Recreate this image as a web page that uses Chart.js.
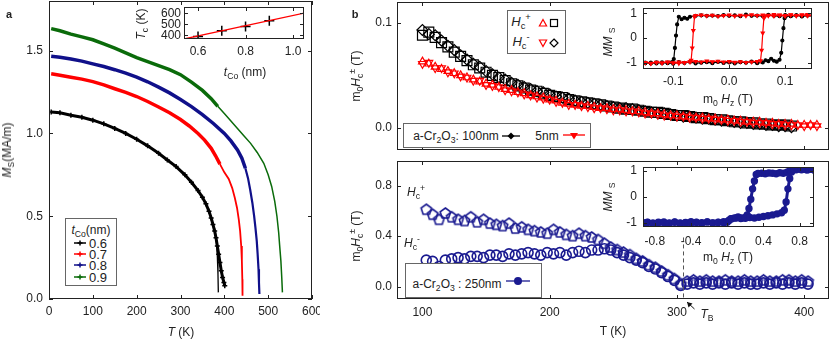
<!DOCTYPE html>
<html>
<head>
<meta charset="utf-8">
<script src="https://cdn.jsdelivr.net/npm/chart.js@4.4.0/dist/chart.umd.min.js"></script>
<style>
  body { margin: 0; background: #fff; }
  #page { position: relative; width: 830px; height: 339px; overflow: hidden; font-family: "Liberation Sans", Arial, sans-serif; color: #222; }
  canvas { position: absolute; }
  .t { position: absolute; transform: translate(-50%, -50%); white-space: nowrap; font-size: 12px; line-height: 1; }
  .r { transform: translate(-50%, -50%) rotate(-90deg); }
  .box { position: absolute; border: 1px solid #666; background: #fff; box-sizing: border-box; }
  .mk { position: absolute; transform: translate(-50%, -50%); }
  sub, sup { font-size: 72%; line-height: 0; }
</style>
</head>
<body>
<div id="page">
  <canvas id="cA" width="320" height="339" style="left:0;top:0"></canvas>
  <canvas id="cAin" width="160" height="60" style="left:150px;top:0"></canvas>
  <canvas id="cBtop" width="490" height="155" style="left:340px;top:0"></canvas>
  <canvas id="cBbot" width="490" height="184" style="left:340px;top:155px"></canvas>
  <canvas id="cBin1" width="215" height="90" style="left:600px;top:0"></canvas>
  <canvas id="cBin2" width="215" height="95" style="left:600px;top:155px"></canvas>

  <!-- panel a texts -->
  <div class="t" style="left:9px;top:14px;font-weight:bold;font-size:11px">a</div>
  <div class="t r" style="left:7px;top:150px"><i>M</i><sub>S</sub>(MA/m)</div>
  <div class="t" style="left:181px;top:332px"><i>T</i> (K)</div>
  <div class="t r" style="left:141px;top:24px"><i>T</i><sub>c</sub> (K)</div>
  <div class="t" style="left:245px;top:72px"><i>t</i><sub>Co</sub> (nm)</div>

  <div class="box" style="left:65px;top:218px;width:52px;height:68px"></div>
  <div class="t" style="left:91px;top:230px"><i>t</i><sub>Co</sub>(nm)</div>
  <svg class="mk" style="left:80px;top:243px" width="14" height="7"><line x1="1" y1="3.5" x2="13" y2="3.5" stroke="#000" stroke-width="1.5"/><path d="M7 1V6M4.5 3.5H9.5" stroke="#000" stroke-width="1.5"/></svg>
  <div class="t" style="left:98px;top:243px;font-size:13px">0.6</div>
  <svg class="mk" style="left:80px;top:254px" width="14" height="7"><line x1="1" y1="3.5" x2="13" y2="3.5" stroke="#f00" stroke-width="1.5"/><path d="M7 1V6M4.5 3.5H9.5" stroke="#f00" stroke-width="1.5"/></svg>
  <div class="t" style="left:98px;top:254px;font-size:13px">0.7</div>
  <svg class="mk" style="left:80px;top:265px" width="14" height="7"><line x1="1" y1="3.5" x2="13" y2="3.5" stroke="#10108a" stroke-width="1.5"/><path d="M7 1V6M4.5 3.5H9.5" stroke="#10108a" stroke-width="1.5"/></svg>
  <div class="t" style="left:98px;top:265px;font-size:13px">0.8</div>
  <svg class="mk" style="left:80px;top:277px" width="14" height="7"><line x1="1" y1="3.5" x2="13" y2="3.5" stroke="#0a6b0a" stroke-width="1.5"/><path d="M7 1V6M4.5 3.5H9.5" stroke="#0a6b0a" stroke-width="1.5"/></svg>
  <div class="t" style="left:98px;top:277px;font-size:13px">0.9</div>

  <!-- panel b texts -->
  <div class="t" style="left:355px;top:14px;font-weight:bold;font-size:11px">b</div>
  <div class="t r" style="left:356px;top:76px">m<sub>0</sub><i>H</i><sub>c</sub><sup>&plusmn;</sup> (T)</div>
  <div class="t r" style="left:356px;top:236px">m<sub>0</sub><i>H</i><sub>c</sub><sup>&plusmn;</sup> (T)</div>
  <div class="t" style="left:613px;top:331px">T (K)</div>

  <div class="box" style="left:507px;top:10px;width:59px;height:44px"></div>
  <div class="t" style="left:521px;top:21px;font-size:13px"><i>H</i><sub>c</sub><sup>+</sup></div>
  <div class="t" style="left:521px;top:41px;font-size:13px"><i>H</i><sub>c</sub><sup>-</sup></div>
  <svg class="mk" style="left:543px;top:23px" width="10" height="10"><path d="M5 1.5L8.6 8H1.4Z" fill="none" stroke="#f00" stroke-width="1.2"/></svg>
  <svg class="mk" style="left:554px;top:23px" width="10" height="10"><rect x="1.5" y="1.5" width="7" height="7" fill="none" stroke="#000" stroke-width="1.2"/></svg>
  <svg class="mk" style="left:543px;top:43px" width="10" height="10"><path d="M5 8.5L8.6 2H1.4Z" fill="none" stroke="#f00" stroke-width="1.2"/></svg>
  <svg class="mk" style="left:554px;top:43px" width="10" height="10"><path d="M5 1L9 5L5 9L1 5Z" fill="none" stroke="#000" stroke-width="1.2"/></svg>

  <div class="box" style="left:403px;top:123px;width:188px;height:25px"></div>
  <div class="t" style="left:456px;top:136px">a-Cr<sub>2</sub>O<sub>3</sub>: 100nm</div>
  <svg class="mk" style="left:511px;top:136px" width="18" height="10"><line x1="0" y1="5" x2="18" y2="5" stroke="#000" stroke-width="1.3"/><path d="M9 1.5L12.5 5L9 8.5L5.5 5Z" fill="#000"/></svg>
  <div class="t" style="left:547px;top:136px">5nm</div>
  <svg class="mk" style="left:574px;top:136px" width="22" height="10"><line x1="0" y1="4" x2="22" y2="4" stroke="#f00" stroke-width="1.3"/><path d="M11 8.5L15 2H7Z" fill="#f00"/></svg>

  <div class="t" style="left:416px;top:192px"><i>H</i><sub>c</sub><sup>+</sup></div>
  <div class="t" style="left:412px;top:243px"><i>H</i><sub>c</sub><sup>-</sup></div>
  <div class="t" style="left:707px;top:314px"><i>T</i><sub>B</sub></div>

  <div class="box" style="left:405px;top:263px;width:137px;height:35px"></div>
  <div class="t" style="left:457px;top:284px">a-Cr<sub>2</sub>O<sub>3</sub> : 250nm</div>
  <svg class="mk" style="left:518px;top:281px" width="24" height="10"><line x1="0" y1="5" x2="24" y2="5" stroke="#1a1a90" stroke-width="1.3"/><circle cx="12" cy="5" r="4" fill="#1a1a90"/></svg>

  <div class="t" style="left:728px;top:99px">m<sub>0</sub> <i>H</i><sub>z</sub> (T)</div>
  <div class="t r" style="left:608px;top:42px"><i>MM</i> <sub>S</sub></div>
  <div class="t" style="left:728px;top:257px">m<sub>0</sub> <i>H</i><sub>z</sub> (T)</div>
  <div class="t r" style="left:608px;top:197px"><i>MM</i> <sub>S</sub></div>
</div>
<script>
// ---------- panel a: Ms(T) for several Co thicknesses ----------
const tempA06 = [5, 25, 50, 75, 100, 125, 150, 175, 200, 225, 250, 270, 290, 310, 325, 340, 350, 358, 365, 370, 374, 378, 381, 384, 387, 390, 393, 396, 399, 401];
const msA06 = [1.13, 1.125, 1.11, 1.098, 1.08, 1.058, 1.03, 1.0, 0.965, 0.925, 0.88, 0.84, 0.80, 0.75, 0.705, 0.655, 0.615, 0.575, 0.53, 0.49, 0.45, 0.41, 0.37, 0.32, 0.27, 0.22, 0.17, 0.13, 0.10, 0.08];
const fitTempA06 = [365, 372, 378, 382, 384, 385.5, 386.3];
const fitMsA06 = [0.53, 0.47, 0.41, 0.34, 0.26, 0.15, 0.04];

const tempA07 = [5, 25, 50, 75, 100, 125, 150, 175, 200, 225, 250, 275, 300, 320, 340, 355, 370, 380, 390];
const msA07 = [1.36, 1.352, 1.34, 1.328, 1.313, 1.293, 1.27, 1.248, 1.223, 1.193, 1.16, 1.125, 1.084, 1.045, 1.0, 0.96, 0.91, 0.865, 0.815];
const fitTempA07 = [390, 400, 410, 418, 424, 429, 433, 436, 438.5, 440, 441, 441.5];
const fitMsA07 = [0.815, 0.765, 0.725, 0.67, 0.61, 0.55, 0.48, 0.41, 0.32, 0.23, 0.12, 0.02];

const tempA08 = [5, 25, 50, 75, 100, 125, 150, 175, 200, 225, 250, 275, 300, 325, 350, 375, 400, 415, 430, 440, 448];
const msA08 = [1.466, 1.46, 1.45, 1.437, 1.42, 1.404, 1.385, 1.364, 1.34, 1.312, 1.28, 1.245, 1.205, 1.162, 1.114, 1.06, 1.0, 0.955, 0.90, 0.85, 0.79];
const fitTempA08 = [448, 454, 459, 464, 468, 471, 474, 476, 478, 479, 480];
const fitMsA08 = [0.79, 0.73, 0.66, 0.58, 0.50, 0.43, 0.35, 0.27, 0.18, 0.10, 0.03];

const tempA09 = [5, 25, 50, 75, 100, 125, 150, 175, 200, 225, 250, 275, 300, 325, 350, 370, 385];
const msA09 = [1.633, 1.62, 1.60, 1.583, 1.566, 1.541, 1.515, 1.487, 1.458, 1.434, 1.41, 1.385, 1.355, 1.31, 1.26, 1.21, 1.164];
const fitTempA09 = [385, 400, 415, 430, 445, 460, 475, 490, 500, 508, 515, 520, 524, 526, 529, 531, 532.5];
const fitMsA09 = [1.164, 1.12, 1.075, 1.03, 0.985, 0.94, 0.885, 0.82, 0.75, 0.68, 0.59, 0.50, 0.40, 0.33, 0.23, 0.13, 0.04];

// inset a: Tc vs tCo
const tCo = [0.6, 0.7, 0.8, 0.9];
const tcValues = [388, 441, 480, 532];
const tcFitX = [0.54, 1.05];
const tcFitY = [366, 603];

// ---------- panel b top: Hc(T), a-Cr2O3 100 nm and 5 nm ----------
const tempB100 = [100, 105, 110, 115, 120, 125, 130, 135, 140, 145, 150, 155, 160, 165, 170, 175, 180, 185, 190, 195, 200, 205, 210, 215, 220, 225, 230, 235, 240, 245, 250, 255, 260, 265, 270, 275, 280, 285, 290, 295, 300, 305, 310, 315, 320, 325, 330, 335, 340, 345, 350, 355, 360, 365, 370, 375, 380, 385, 390];
const hcPlus100 = [0.088, 0.091, 0.086, 0.081, 0.077, 0.072, 0.068, 0.064, 0.060, 0.057, 0.053, 0.050, 0.048, 0.045, 0.042, 0.040, 0.038, 0.036, 0.035, 0.033, 0.031, 0.030, 0.029, 0.027, 0.026, 0.025, 0.024, 0.023, 0.022, 0.021, 0.020, 0.019, 0.018, 0.018, 0.017, 0.016, 0.015, 0.015, 0.014, 0.013, 0.012, 0.012, 0.011, 0.010, 0.010, 0.009, 0.008, 0.008, 0.007, 0.006, 0.006, 0.005, 0.005, 0.004, 0.004, 0.003, 0.003, 0.003, 0.002];
const hcMinus100 = [0.093, 0.089, 0.088, 0.083, 0.078, 0.074, 0.069, 0.065, 0.061, 0.058, 0.054, 0.051, 0.048, 0.046, 0.043, 0.041, 0.039, 0.037, 0.035, 0.034, 0.032, 0.030, 0.029, 0.028, 0.026, 0.025, 0.024, 0.023, 0.022, 0.021, 0.020, 0.019, 0.019, 0.018, 0.017, 0.016, 0.015, 0.014, 0.014, 0.013, 0.012, 0.011, 0.011, 0.010, 0.009, 0.009, 0.008, 0.007, 0.007, 0.006, 0.005, 0.005, 0.004, 0.004, 0.003, 0.003, 0.002, 0.002, 0.001];

const tempB5 = [100, 105, 110, 115, 120, 125, 130, 135, 140, 145, 150, 155, 160, 165, 170, 175, 180, 185, 190, 195, 200, 205, 210, 215, 220, 225, 230, 235, 240, 245, 250, 255, 260, 265, 270, 275, 280, 285, 290, 295, 300, 305, 310, 315, 320, 325, 330, 335, 340, 345, 350, 355, 360, 365, 370, 375, 380, 385, 390, 395, 400, 405, 410];
const hcPlus5 = [0.063, 0.061, 0.058, 0.056, 0.054, 0.052, 0.050, 0.048, 0.046, 0.044, 0.042, 0.041, 0.039, 0.037, 0.036, 0.034, 0.033, 0.031, 0.030, 0.029, 0.027, 0.026, 0.024, 0.023, 0.022, 0.021, 0.021, 0.020, 0.019, 0.019, 0.018, 0.018, 0.017, 0.016, 0.016, 0.015, 0.014, 0.014, 0.013, 0.012, 0.012, 0.011, 0.011, 0.010, 0.010, 0.009, 0.009, 0.008, 0.008, 0.007, 0.007, 0.006, 0.006, 0.006, 0.005, 0.005, 0.004, 0.004, 0.004, 0.003, 0.003, 0.003, 0.003];
const hcMinus5 = [0.061, 0.062, 0.057, 0.057, 0.053, 0.052, 0.049, 0.048, 0.045, 0.045, 0.041, 0.040, 0.039, 0.036, 0.035, 0.034, 0.032, 0.031, 0.029, 0.028, 0.027, 0.025, 0.024, 0.022, 0.022, 0.021, 0.020, 0.019, 0.019, 0.018, 0.017, 0.017, 0.016, 0.016, 0.015, 0.014, 0.014, 0.013, 0.012, 0.012, 0.011, 0.011, 0.010, 0.010, 0.009, 0.009, 0.008, 0.008, 0.007, 0.007, 0.006, 0.006, 0.005, 0.005, 0.005, 0.004, 0.004, 0.003, 0.003, 0.003, 0.002, 0.003, 0.002];

// ---------- panel b bottom: Hc(T), a-Cr2O3 250 nm ----------
const tempB250 = [103, 108, 113, 118, 123, 128, 133, 138, 143, 148, 153, 158, 163, 168, 173, 178, 183, 188, 193, 198, 203, 208, 213, 218, 223, 228, 233, 238, 243, 248, 253, 258, 263, 268, 273, 278, 283, 288, 293, 298, 303, 308, 313, 318, 323, 328, 333, 338, 343, 348, 353, 358, 363, 368, 373, 378, 383, 388, 393, 398, 403];
const hcPlus250 = [0.61, 0.57, 0.53, 0.58, 0.55, 0.53, 0.52, 0.55, 0.51, 0.53, 0.50, 0.49, 0.48, 0.50, 0.46, 0.47, 0.45, 0.44, 0.43, 0.42, 0.45, 0.43, 0.41, 0.40, 0.42, 0.40, 0.39, 0.37, 0.34, 0.31, 0.29, 0.27, 0.25, 0.22, 0.20, 0.17, 0.15, 0.12, 0.09, 0.06, 0.02, 0.04, 0.05, 0.04, 0.05, 0.04, 0.04, 0.05, 0.04, 0.04, 0.05, 0.04, 0.04, 0.05, 0.04, 0.04, 0.05, 0.05, 0.04, 0.05, 0.04];
const hcMinus250 = [0.21, 0.20, 0.16, 0.21, 0.22, 0.23, 0.22, 0.24, 0.24, 0.23, 0.25, 0.25, 0.24, 0.26, 0.25, 0.26, 0.27, 0.26, 0.25, 0.27, 0.26, 0.27, 0.25, 0.27, 0.28, 0.27, 0.29, 0.29, 0.30, 0.29, 0.27, 0.25, 0.23, 0.21, 0.19, 0.16, 0.14, 0.11, 0.08, 0.05, 0.01, 0.02, 0.03, 0.02, 0.03, 0.02, 0.03, 0.02, 0.03, 0.02, 0.03, 0.02, 0.02, 0.03, 0.02, 0.03, 0.02, 0.03, 0.02, 0.03, 0.02];
const tempBlocking = 305;

// ---------- hysteresis loops (insets b) ----------
const loop100H = [0.15, 0.14, 0.13, 0.12, 0.11, 0.10, 0.09, 0.08, 0.07, 0.06, 0.05, 0.04, 0.03, 0.02, 0.01, 0.00, -0.01, -0.02, -0.03, -0.04, -0.05, -0.06, -0.07, -0.075, -0.08, -0.085, -0.09, -0.093, -0.095, -0.097, -0.099, -0.102, -0.11, -0.12, -0.13, -0.14, -0.15,
  -0.15, -0.14, -0.13, -0.12, -0.11, -0.10, -0.09, -0.08, -0.07, -0.06, -0.05, -0.04, -0.03, -0.02, -0.01, 0.00, 0.01, 0.02, 0.03, 0.04, 0.05, 0.06, 0.065, 0.07, 0.075, 0.08, 0.085, 0.09, 0.093, 0.095, 0.097, 0.099, 0.102, 0.11, 0.12, 0.13, 0.14, 0.15];
const loop100M = [0.88, 0.91, 0.87, 0.92, 0.89, 0.93, 0.88, 0.90, 0.94, 0.89, 0.91, 0.90, 0.95, 0.88, 0.92, 0.90, 0.93, 0.89, 0.91, 0.90, 0.92, 0.90, 0.86, 0.78, 0.82, 0.76, 0.86, 0.55, 0.10, -0.40, -0.85, -0.98, -1.02, -0.99, -1.03, -1.00, -1.02,
  -1.00, -1.03, -0.99, -1.02, -1.00, -1.04, -0.98, -1.01, -0.97, -1.03, -1.00, -0.98, -1.02, -0.97, -1.01, -0.99, -1.03, -0.98, -1.00, -0.96, -1.02, -0.99, -0.90, -0.94, -0.84, -0.92, -0.96, -0.88, -0.60, -0.10, 0.40, 0.80, 0.90, 0.88, 0.92, 0.89, 0.93, 0.90];
const loop5H = [0.15, 0.14, 0.13, 0.12, 0.11, 0.10, 0.09, 0.08, 0.07, 0.06, 0.05, 0.04, 0.03, 0.02, 0.01, 0.00, -0.01, -0.02, -0.03, -0.04, -0.05, -0.06, -0.062, -0.064, -0.066, -0.068, -0.07, -0.08, -0.09, -0.10, -0.11, -0.12, -0.13, -0.14, -0.15,
  -0.15, -0.14, -0.13, -0.12, -0.11, -0.10, -0.09, -0.08, -0.07, -0.06, -0.05, -0.04, -0.03, -0.02, -0.01, 0.00, 0.01, 0.02, 0.03, 0.04, 0.05, 0.056, 0.058, 0.060, 0.062, 0.065, 0.07, 0.08, 0.09, 0.10, 0.11, 0.12, 0.13, 0.14, 0.15];
const loop5M = [0.92, 0.90, 0.94, 0.91, 0.93, 0.89, 0.92, 0.95, 0.90, 0.93, 0.91, 0.94, 0.90, 0.92, 0.89, 0.93, 0.91, 0.88, 0.92, 0.90, 0.93, 0.91, 0.85, 0.30, -0.40, -0.90, -0.97, -1.00, -0.97, -1.02, -0.98, -1.01, -0.99, -1.03, -1.00,
  -1.00, -1.02, -0.98, -1.01, -0.97, -1.00, -1.03, -0.99, -0.96, -0.95, -0.97, -0.93, -0.96, -0.94, -0.97, -0.95, -0.98, -0.96, -0.99, -0.97, -0.95, -0.92, -0.50, 0.20, 0.80, 0.90, 0.92, 0.89, 0.93, 0.91, 0.94, 0.90, 0.92, 0.95, 0.91];
const loop250H = [0.96, 0.92, 0.88, 0.84, 0.80, 0.76, 0.72, 0.69, 0.66, 0.62, 0.58, 0.54, 0.50, 0.46, 0.42, 0.38, 0.34, 0.32, 0.30, 0.28, 0.26, 0.24, 0.22, 0.20, 0.16, 0.12, 0.08, 0.04, 0.02, 0.00, -0.04, -0.10, -0.16, -0.22, -0.28, -0.34, -0.40, -0.46, -0.52, -0.58, -0.64, -0.70, -0.76, -0.82, -0.88, -0.93,
  -0.93, -0.88, -0.82, -0.76, -0.70, -0.64, -0.58, -0.52, -0.46, -0.40, -0.34, -0.28, -0.22, -0.16, -0.10, -0.04, 0.00, 0.02, 0.05, 0.10, 0.15, 0.20, 0.25, 0.30, 0.35, 0.40, 0.45, 0.50, 0.55, 0.60, 0.63, 0.65, 0.67, 0.69, 0.71, 0.74, 0.78, 0.82, 0.86, 0.90, 0.93, 0.96];
const loop250M = [1.03, 1.06, 1.02, 1.05, 1.07, 1.03, 1.05, 1.00, 0.94, 0.90, 0.92, 0.88, 0.90, 0.91, 0.88, 0.90, 0.89, 0.85, 0.60, 0.30, -0.10, -0.45, -0.70, -0.80, -0.82, -0.78, -0.82, -0.85, -0.90, -0.97, -1.00, -0.98, -1.01, -0.97, -1.02, -0.99, -0.96, -1.00, -1.03, -0.98, -1.01, -0.97, -1.00, -1.02, -0.98, -1.00,
  -1.01, -0.99, -1.02, -0.98, -1.00, -1.03, -0.97, -1.01, -0.99, -1.02, -0.98, -1.00, -0.97, -1.01, -0.99, -0.96, -0.97, -0.92, -0.85, -0.82, -0.84, -0.83, -0.80, -0.82, -0.79, -0.76, -0.73, -0.70, -0.66, -0.62, -0.52, -0.20, 0.30, 0.70, 0.95, 1.04, 1.06, 1.03, 1.07, 1.04, 1.06, 1.02];

const BLACK = "#000000";
const RED = "#ff0000";
const BLUE = "#10108a";
const GREEN = "#0a6b0a";
const NAVY = "#1a1a90";
const FONT = { family: "'Liberation Sans', Arial, sans-serif", size: 12 };

function pts(xs, ys) {
  return xs.map((x, i) => ({ x: x, y: ys[i] }));
}

// frame + inward ticks on all four sides
const frameTicks = {
  id: "frameTicks",
  beforeDraw(chart, args, opts) {
    if (!opts.fill) return;
    const a = chart.chartArea;
    chart.ctx.save();
    chart.ctx.fillStyle = opts.fill;
    chart.ctx.fillRect(a.left, a.top, a.width, a.height);
    chart.ctx.restore();
  },
  afterDraw(chart, args, opts) {
    const { ctx, chartArea: a, scales } = chart;
    const len = opts.len || 4;
    ctx.save();
    ctx.strokeStyle = opts.color || "#222";
    ctx.lineWidth = 1;
    ctx.beginPath();
    scales.x.ticks.forEach((t) => {
      const px = Math.round(scales.x.getPixelForValue(t.value)) + 0.5;
      ctx.moveTo(px, a.bottom);
      ctx.lineTo(px, a.bottom - len);
      ctx.moveTo(px, a.top);
      ctx.lineTo(px, a.top + len);
    });
    scales.y.ticks.forEach((t) => {
      const py = Math.round(scales.y.getPixelForValue(t.value)) + 0.5;
      ctx.moveTo(a.left, py);
      ctx.lineTo(a.left + len, py);
      ctx.moveTo(a.right, py);
      ctx.lineTo(a.right - len, py);
    });
    ctx.stroke();
    ctx.strokeRect(a.left + 0.5, a.top + 0.5, a.width - 1, a.height - 1);
    ctx.restore();
  },
};
Chart.register(frameTicks);

function axis(cfg) {
  return {
    type: "linear",
    min: cfg.min,
    max: cfg.max,
    afterFit: (s) => {
      if (cfg.width !== undefined) s.width = cfg.width;
      if (cfg.height !== undefined) s.height = cfg.height;
      // keep label overhang from pushing the plot area around
      s.paddingTop = 0;
      s.paddingBottom = 0;
      s.paddingLeft = 0;
      s.paddingRight = 0;
    },
    afterBuildTicks: (s) => {
      s.ticks = cfg.ticks.map((v) => ({ value: v }));
    },
    grid: { display: false, drawTicks: false },
    border: { display: false },
    ticks: {
      display: cfg.labels !== false,
      autoSkip: false,
      maxRotation: 0,
      padding: cfg.pad,
      color: "#222",
      font: FONT,
      callback: (v) => Number(v).toFixed(cfg.dec),
    },
  };
}

function makeChart(id, datasets, layoutPad, xCfg, yCfg, fill, extra) {
  return new Chart(document.getElementById(id), {
    type: "scatter",
    data: { datasets: datasets },
    options: {
      responsive: false,
      animation: false,
      events: [],
      layout: { autoPadding: false, padding: layoutPad },
      plugins: {
        legend: { display: false },
        tooltip: { enabled: false },
        frameTicks: { color: "#222", len: 4, fill: fill },
      },
      scales: { x: axis(xCfg), y: axis(yCfg) },
    },
    plugins: extra || [],
  });
}

function lineSet(xs, ys, color, width, extra) {
  return Object.assign({
    data: pts(xs, ys),
    showLine: true,
    borderColor: color,
    backgroundColor: color,
    borderWidth: width,
    pointRadius: 0,
  }, extra || {});
}

function markerSet(xs, ys, color, style, radius, extra) {
  return Object.assign({
    data: pts(xs, ys),
    showLine: false,
    borderColor: color,
    backgroundColor: "transparent",
    borderWidth: 1.2,
    pointStyle: style,
    pointRadius: radius,
  }, extra || {});
}

function pentagon(color, r, lw) {
  const c = document.createElement("canvas");
  const s = Math.ceil(2 * r + lw + 2);
  c.width = s;
  c.height = s;
  const g = c.getContext("2d");
  g.strokeStyle = color;
  g.lineWidth = lw;
  g.beginPath();
  for (let i = 0; i < 5; i++) {
    const ang = -Math.PI / 2 + (i * 2 * Math.PI) / 5;
    const px = s / 2 + r * Math.cos(ang);
    const py = s / 2 + r * Math.sin(ang);
    if (i === 0) g.moveTo(px, py);
    else g.lineTo(px, py);
  }
  g.closePath();
  g.stroke();
  return c;
}

// panel a
makeChart("cA", [
  lineSet(tempA06, msA06, BLACK, 3, { pointStyle: "cross", pointRadius: 2.5, pointBorderWidth: 1.5 }),
  lineSet(fitTempA06, fitMsA06, BLACK, 1.3),
  lineSet(tempA07, msA07, RED, 3.5),
  lineSet(fitTempA07, fitMsA07, RED, 1.8),
  lineSet(tempA08, msA08, BLUE, 3.5),
  lineSet(fitTempA08, fitMsA08, BLUE, 2.2),
  lineSet(tempA09, msA09, GREEN, 3.5),
  lineSet(fitTempA09, fitMsA09, GREEN, 1.5),
], { left: 0, top: 1, right: 8, bottom: 0 },
  { min: 0, max: 600, ticks: [0, 100, 200, 300, 400, 500, 600], dec: 0, pad: 5, height: 40 },
  { min: 0, max: 1.8, ticks: [0, 0.5, 1.0, 1.5], dec: 1, pad: 6, width: 49 });

makeChart("cAin", [
  lineSet(tcFitX, tcFitY, RED, 1.3),
  markerSet(tCo, tcValues, BLACK, "cross", 5, { borderWidth: 1.5 }),
], { left: 0, top: 7, right: 6, bottom: 0 },
  { min: 0.541, max: 1.046, ticks: [0.6, 0.8, 1.0], dec: 1, pad: 5, height: 21 },
  { min: 366, max: 657, ticks: [400, 500, 600], dec: 0, pad: 3, width: 34 }, "#fff");

// panel b top
makeChart("cBtop", [
  markerSet(tempB5, hcPlus5, RED, "triangle", 4.5),
  markerSet(tempB5, hcMinus5, RED, "triangle", 4.5, { rotation: 180 }),
  markerSet(tempB100, hcPlus100, BLACK, "rect", 7),
  markerSet(tempB100, hcMinus100, BLACK, "rectRot", 5.5),
], { left: 0, top: 2, right: 1, bottom: 0 },
  { min: 80, max: 419.5, ticks: [100, 200, 300, 400], dec: 0, pad: 5, height: 5, labels: false },
  { min: -0.0207, max: 0.1195, ticks: [0, 0.1], dec: 1, pad: 5, width: 57 });

// panel b bottom with blocking temperature marker
const blockingMark = {
  id: "blockingMark",
  afterDraw(chart) {
    const { ctx, chartArea: a, scales } = chart;
    const px = Math.round(scales.x.getPixelForValue(tempBlocking)) + 0.5;
    ctx.save();
    ctx.strokeStyle = "#555";
    ctx.lineWidth = 1;
    ctx.setLineDash([4, 3]);
    ctx.beginPath();
    ctx.moveTo(px, scales.y.getPixelForValue(0.39));
    ctx.lineTo(px, a.bottom);
    ctx.stroke();
    ctx.setLineDash([]);
    ctx.strokeStyle = "#111";
    ctx.fillStyle = "#111";
    const tipX = px + 3.5, tipY = a.bottom + 3;
    ctx.beginPath();
    ctx.moveTo(px + 11, a.bottom + 10);
    ctx.lineTo(tipX, tipY);
    ctx.stroke();
    ctx.beginPath();
    ctx.moveTo(tipX, tipY);
    ctx.lineTo(tipX + 5.5, tipY + 1.5);
    ctx.lineTo(tipX + 1.5, tipY + 5.5);
    ctx.closePath();
    ctx.fill();
    ctx.restore();
  },
};

makeChart("cBbot", [
  markerSet(tempB250, hcMinus250, NAVY, "circle", 5, { borderWidth: 1.6 }),
  markerSet(tempB250, hcPlus250, NAVY, pentagon(NAVY, 5.5, 1.6), 5),
], { left: 0, top: 6, right: 1, bottom: 0 },
  { min: 80, max: 419.5, ticks: [100, 200, 300, 400], dec: 0, pad: 6, height: 40 },
  { min: -0.098, max: 0.996, ticks: [0, 0.4, 0.8], dec: 1, pad: 5, width: 57 }, null, [blockingMark]);

// insets b: hysteresis loops
makeChart("cBin1", [
  lineSet(loop5H, loop5M, RED, 1.2, { pointStyle: "triangle", pointRadius: 1.8, rotation: 180 }),
  lineSet(loop100H, loop100M, BLACK, 1.2, { pointStyle: "circle", pointRadius: 1.5 }),
], { left: 0, top: 8, right: 3, bottom: 0 },
  { min: -0.154, max: 0.148, ticks: [-0.1, 0, 0.1], dec: 1, pad: 5, height: 21 },
  { min: -1.255, max: 1.215, ticks: [-1, 0, 1], dec: 0, pad: 6, width: 43 }, "#fff");

makeChart("cBin2", [
  lineSet(loop250H, loop250M, NAVY, 3, { pointStyle: "circle", pointRadius: 2.2 }),
], { left: 0, top: 12, right: 1, bottom: 0 },
  { min: -0.93, max: 0.958, ticks: [-0.8, -0.4, 0, 0.4, 0.8], dec: 1, pad: 7, height: 23 },
  { min: -1.165, max: 1.14, ticks: [-1, 0, 1], dec: 0, pad: 6, width: 43 }, "#fff");
</script>
</body>
</html>
